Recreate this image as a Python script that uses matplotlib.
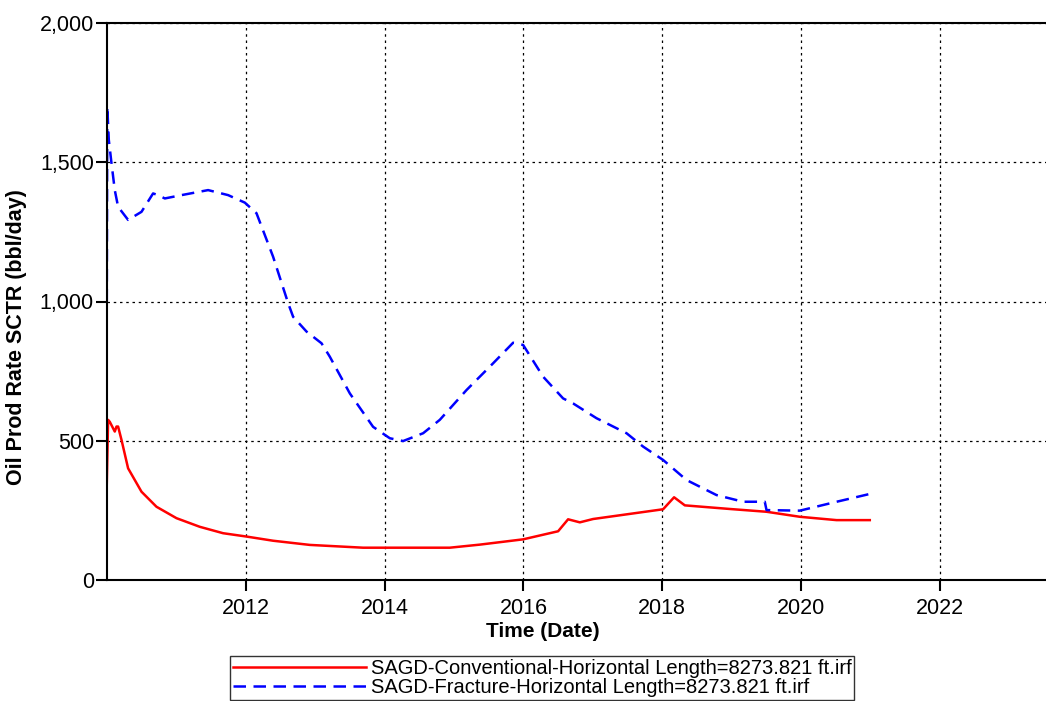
import matplotlib
matplotlib.use("Agg")
import matplotlib.pyplot as plt
from matplotlib.ticker import FuncFormatter

plt.rcParams['font.family'] = ['Liberation Sans', 'DejaVu Sans']

# ---- data (decimal years, bbl/day) ----
frac_t = [2009.997, 2010.004, 2010.026, 2010.065, 2010.112, 2010.160, 2010.304, 2010.497,
          2010.664, 2010.736, 2010.833, 2011.074, 2011.457, 2011.745, 2011.986, 2012.154,
          2012.393, 2012.610, 2012.682, 2012.875, 2013.091, 2013.210, 2013.499, 2013.834,
          2014.075, 2014.267, 2014.555, 2014.795, 2015.180, 2015.563, 2015.852, 2015.996,
          2016.284, 2016.572, 2016.716, 2017.053, 2017.486, 2017.725, 2018.013, 2018.350,
          2018.782, 2019.166, 2019.478, 2019.503, 2019.983, 2020.463, 2020.991]
frac_q = [1000, 1700, 1580, 1496, 1400, 1340, 1293, 1322,
          1388, 1382, 1370, 1382, 1400, 1382, 1355, 1317,
          1161, 994, 945, 892, 850, 802, 670, 550,
          509, 499, 527, 575, 682, 778, 852, 844,
          730, 652, 634, 581, 527, 479, 431, 359,
          305, 281, 281, 251, 249, 278, 309]

conv_t = [2009.993, 2010.016, 2010.040, 2010.112, 2010.137, 2010.160, 2010.209, 2010.304,
          2010.497, 2010.713, 2011.001, 2011.337, 2011.673, 2012.010, 2012.393, 2012.922,
          2013.690, 2014.939, 2015.372, 2015.996, 2016.500, 2016.644, 2016.813, 2017.004,
          2018.013, 2018.171, 2018.326, 2018.974, 2019.503, 2019.983, 2020.512, 2020.991]
conv_q = [299, 575, 568, 533, 551, 551, 503, 401,
          317, 263, 222, 191, 168, 156, 141, 126,
          116, 116, 127, 146, 175, 218, 207, 219,
          254, 297, 268, 255, 245, 227, 215, 215]

x_ticks = [2012, 2014, 2016, 2018, 2020, 2022]
y_ticks = [0, 500, 1000, 1500, 2000]

label_conv = "SAGD-Conventional-Horizontal Length=8273.821 ft.irf"
label_frac = "SAGD-Fracture-Horizontal Length=8273.821 ft.irf"

fig = plt.figure(figsize=(10.46, 7.01), dpi=100)
ax = fig.add_axes([107/1046, 1 - 580/701, 1 - 107/1046, (580 - 23)/701])

l1, = ax.plot(conv_t, conv_q, color='#ff0000', lw=1.8, label=label_conv)
l2, = ax.plot(frac_t, frac_q, color='#0000ff', lw=1.8, dashes=(5, 3), label=label_frac)

ax.set_xlim(2010.0, 2023.53)
ax.set_ylim(0, 2000)
ax.set_xticks(x_ticks)
ax.set_yticks(y_ticks)
ax.yaxis.set_major_formatter(FuncFormatter(lambda v, p: f"{int(v):,}"))
ax.tick_params(direction='out', length=8, width=1.5, labelsize=15.5)
ax.tick_params(axis='x', pad=5)
ax.tick_params(axis='y', pad=1.5)
ax.grid(True, color='black', linestyle=(0, (2, 3)), linewidth=0.9)

for s in ['left', 'bottom', 'top']:
    ax.spines[s].set_linewidth(1.5)
ax.spines['right'].set_visible(False)

ax.set_ylabel("Oil Prod Rate SCTR (bbl/day)", fontsize=15.5, fontweight='bold')
ax.yaxis.set_label_coords((27 - 107) / 939, (580 - 337) / 557)
ax.set_xlabel("Time (Date)", fontsize=15, fontweight='bold')
ax.xaxis.set_label_coords((543 - 107) / 939, -(622 - 580) / 557)

leg = fig.legend(handles=[l1, l2], loc='upper center', bbox_to_anchor=(542/1046, 1 - 656/701),
                 fontsize=14.5, frameon=True, fancybox=False, edgecolor='black',
                 handlelength=6.6, handletextpad=0.25, borderpad=0.15, labelspacing=0.0,
                 borderaxespad=0)
leg.get_frame().set_linewidth(1.0)

fig.savefig("out.png", dpi=100)
